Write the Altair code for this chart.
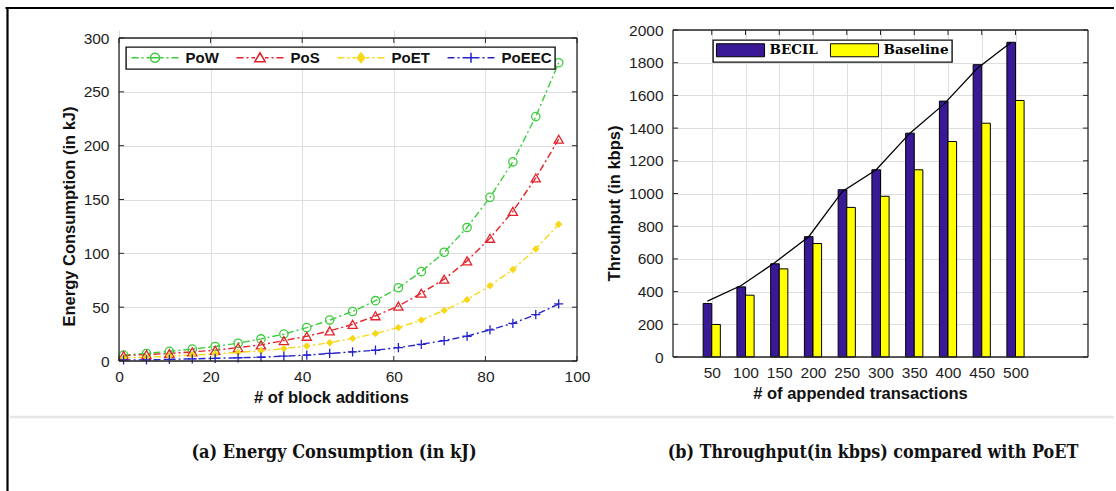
import altair as alt
import pandas as pd

# ---------------- data: (a) energy consumption ----------------
block_additions = [1, 6, 11, 16, 21, 26, 31, 36, 41, 46, 51, 56, 61, 66, 71, 76, 81, 86, 91, 96]
pow_kj = [5.5, 7, 9, 11, 13.5, 16.5, 20.5, 25, 31, 38, 46, 56, 68, 83, 101, 124, 152, 185, 227, 277]
pos_kj = [5, 6, 7, 8.5, 10, 12.5, 15, 19, 23, 28, 34, 42, 51, 63, 76, 93, 114, 139, 170, 206]
poet_kj = [3, 3.5, 4.5, 5.5, 6.5, 8, 9.5, 11.5, 14, 17, 21, 25.5, 31, 38, 47, 57, 70, 85, 104, 127]
poeec_kj = [1, 1, 1.5, 2, 2.5, 3, 3.5, 4.5, 5.5, 7, 8.5, 10, 12.5, 15.5, 19, 23, 29, 35, 43, 53]
series_a = ["PoW", "PoS", "PoET", "PoEEC"]
x_ticks_a = [0, 20, 40, 60, 80, 100]
y_ticks_a = [0, 50, 100, 150, 200, 250, 300]

# ---------------- data: (b) throughput ----------------
transactions = [50, 100, 150, 200, 250, 300, 350, 400, 450, 500]
becil_kbps = [327, 429, 570, 736, 1023, 1145, 1369, 1565, 1788, 1925]
baseline_kbps = [199, 378, 539, 694, 915, 983, 1145, 1318, 1430, 1569]
trend_kbps = [342, 437, 578, 736, 1013, 1145, 1369, 1545, 1766, 1925]
series_b = ["BECIL", "Baseline"]
y_ticks_b = [0, 200, 400, 600, 800, 1000, 1200, 1400, 1600, 1800, 2000]

caption_a = "(a) Energy Consumption (in kJ)"
caption_b = "(b) Throughput(in kbps) compared with PoET"

# ---------------- styles ----------------
SANS = "Liberation Sans"
CAP_FONT = "DejaVu Serif Condensed"
FRAME = "#262626"
GRID = "#dedede"
colors_a = ["#3dcc3d", "#e3232b", "#f7d716", "#2424c8"]
fills_a = ["transparent", "transparent", "#f7d716", "transparent"]
marker_shapes = ["circle", "triangle-up", "diamond", "M-1,0H1M0,-1V1"]
marker_sizes = [70, 85, 55, 85]
# legend glyphs (unit = 5 px): dash-dot line with the marker in the middle
dash = "M-4.7,0H-3.3M-2.7,0H-2.3M-1.7,0H-1M1,0H1.7M2.3,0H2.7M3.3,0H4.7"
legend_paths = [
    dash + "M0.9,0A0.9,0.9,0,1,1,-0.9,0A0.9,0.9,0,1,1,0.9,0ZM-0.9,0H0.9",
    dash + "M0,-1L1.05,0.8L-1.05,0.8Z",
    dash + "M0,-0.95L0.75,0L0,0.95L-0.75,0Z",
    dash + "M-1,0H1M0,-1V1",
]
colors_b = ["#3a1996", "#ffff00"]

W_A, H_A, TOP_A = 458, 331, 8
W_B, H_B = 415, 327
OFF_B = 673 - 119  # right panel origin relative to left panel origin

# ---------------- frames ----------------
df_a = pd.DataFrame({
    "x": block_additions * 4,
    "v": pow_kj + pos_kj + poet_kj + poeec_kj,
    "series": sum([[s] * len(block_additions) for s in series_a], []),
})
df_b = pd.DataFrame({
    "tx": transactions * 2,
    "v": becil_kbps + baseline_kbps,
    "series": ["BECIL"] * len(transactions) + ["Baseline"] * len(transactions),
})
df_trend = pd.DataFrame({"tx": transactions, "v": trend_kbps})
one = pd.DataFrame({"k": [0]})


def hrule(y, x1, x2, color=FRAME, w=1.3):
    return alt.Chart(one).mark_rule(color=color, strokeWidth=w).encode(
        x=alt.value(x1), x2=alt.value(x2), y=alt.value(y))


def vrule(x, y1, y2, color=FRAME, w=1.3):
    return alt.Chart(one).mark_rule(color=color, strokeWidth=w).encode(
        x=alt.value(x), y=alt.value(y1), y2=alt.value(y2))


def text(t, x, y, font, size, weight="bold"):
    return alt.Chart(pd.DataFrame({"t": [t]})).mark_text(
        font=font, fontSize=size, fontWeight=weight, color="#111",
        align="center", baseline="middle").encode(
        text="t:N", x=alt.value(x), y=alt.value(y))


def axis(values, title, orient, titlePos):
    common = dict(values=values, tickCount=len(values) + 1,
                  grid=True, gridColor=GRID, gridWidth=1,
                  domain=False, ticks=False, tickSize=0, format="d",
                  labelFlush=False, labelOverlap=False,
                  labelFont=SANS, labelFontSize=15.5, labelColor="#1e1e1e",
                  title=title, titleFont=SANS, titleFontSize=16.5,
                  titleFontWeight="bold", titleColor="#111")
    if orient == "x":
        return alt.Axis(labelPadding=8, titlePadding=5, titleX=titlePos, **common)
    return alt.Axis(labelPadding=10, titlePadding=6, titleY=titlePos, **common)


# ================= chart (a) =================
xs_a = alt.Scale(domain=[0, 100], nice=False, zero=False)
ys_a = alt.Scale(domain=[0, 300], range=[H_A, TOP_A], nice=False)

layers_a = []
for i, s in enumerate(series_a):
    base = alt.Chart(df_a).transform_filter(alt.datum.series == s)
    if i == 0:
        X = alt.X("x:Q", scale=xs_a, axis=axis(x_ticks_a, "# of block additions", "x", 212))
        Y = alt.Y("v:Q", scale=ys_a, axis=axis(y_ticks_a, "Energy Consumption (in kJ)", "y", 186))
    else:
        X = alt.X("x:Q", scale=xs_a)
        Y = alt.Y("v:Q", scale=ys_a)
    layers_a.append(base.mark_line(color=colors_a[i], strokeWidth=1.4,
                                   strokeDash=[7, 3, 2, 3]).encode(x=X, y=Y))
for i, s in enumerate(series_a):
    base = alt.Chart(df_a).transform_filter(alt.datum.series == s)
    layers_a.append(base.mark_point(shape=marker_shapes[i], size=marker_sizes[i],
                                    color=colors_a[i], filled=(i == 2),
                                    strokeWidth=1.3, opacity=1).encode(
        x=alt.X("x:Q", scale=xs_a), y=alt.Y("v:Q", scale=ys_a)))

# inside ticks
xt_a = pd.DataFrame({"t": x_ticks_a})
yt_a = pd.DataFrame({"t": y_ticks_a})
for y1, y2 in [(H_A, H_A - 5), (TOP_A, TOP_A + 5)]:
    layers_a.append(alt.Chart(xt_a).mark_rule(color=FRAME, strokeWidth=1).encode(
        x=alt.X("t:Q", scale=xs_a), y=alt.value(y1), y2=alt.value(y2)))
for x1, x2 in [(0, 5), (W_A, W_A - 5)]:
    layers_a.append(alt.Chart(yt_a).mark_rule(color=FRAME, strokeWidth=1).encode(
        y=alt.Y("t:Q", scale=ys_a), x=alt.value(x1), x2=alt.value(x2)))

# plot frame
layers_a += [hrule(TOP_A, 0, W_A), hrule(H_A, 0, W_A), vrule(0, TOP_A, H_A), vrule(W_A, TOP_A, H_A)]

# legend (a)
leg_a = alt.Legend(title=None, orient="none", legendX=7, legendY=17,
                   direction="horizontal", columns=4, symbolSize=100,
                   symbolOffset=18.5, symbolStrokeWidth=1.5, symbolOpacity=1,
                   labelFont=SANS, labelFontSize=15, labelFontWeight="bold",
                   labelColor="#111", labelOffset=23, columnPadding=14,
                   padding=3, strokeColor="#111", fillColor="white")
layers_a.append(alt.Chart(df_a).transform_filter("false").mark_point(
    size=100, strokeWidth=1.5, opacity=1).encode(
    stroke=alt.Stroke("series:N", scale=alt.Scale(domain=series_a, range=colors_a), legend=leg_a),
    fill=alt.Fill("series:N", scale=alt.Scale(domain=series_a, range=fills_a), legend=leg_a),
    shape=alt.Shape("series:N", scale=alt.Scale(domain=series_a, range=legend_paths), legend=leg_a),
))

# page decorations: border, separator, captions
layers_a += [
    hrule(-22, -113.5, 995, "black", 2),
    vrule(-111.5, -23, 462, "black", 2.2),
    hrule(387, -109, 995, "#e6e6e6", 2.5),
    text(caption_a, 215, 423, CAP_FONT, 18),
    text(caption_b, 754, 423, CAP_FONT, 17.8),
]

chart_a = alt.layer(*layers_a).properties(width=W_A, height=H_A)

# ================= chart (b) =================
xs_b = alt.Scale(domain=[0, 600], nice=False, zero=False)
ys_b = alt.Scale(domain=[0, 2000], nice=False)
leg_b = alt.Legend(title=None, orient="none", legendX=OFF_B + 40, legendY=10,
                   direction="horizontal", columns=2,
                   symbolType="M-3.7,-1H3.7V1H-3.7Z", symbolSize=169, symbolOffset=17.5,
                   symbolStrokeColor="black", symbolStrokeWidth=1, symbolOpacity=1,
                   labelFont="DejaVu Serif", labelFontSize=13.5, labelFontWeight="bold",
                   labelColor="black", labelOffset=22, columnPadding=10,
                   padding=3, strokeColor="#111", fillColor="white")
color_b = alt.Color("series:N", scale=alt.Scale(domain=series_b, range=colors_b), legend=leg_b)

layers_b = [
    alt.Chart(df_b).transform_filter(alt.datum.series == "BECIL").mark_bar(
        orient="vertical", width=8.6, xOffset=-4.3, stroke="black", strokeWidth=1, opacity=1).encode(
        x=alt.X("tx:Q", scale=xs_b, axis=axis(transactions, "# of appended transactions", "x", 187)),
        y=alt.Y("v:Q", scale=ys_b, axis=axis(y_ticks_b, "Throuhput (in kbps)", "y", 173)),
        color=color_b),
    alt.Chart(df_b).transform_filter(alt.datum.series == "Baseline").mark_bar(
        orient="vertical", width=8.6, xOffset=4.3, stroke="black", strokeWidth=1, opacity=1).encode(
        x=alt.X("tx:Q", scale=xs_b), y=alt.Y("v:Q", scale=ys_b), color=color_b),
    alt.Chart(df_trend).mark_line(color="black", strokeWidth=1.3, xOffset=-4.3).encode(
        x=alt.X("tx:Q", scale=xs_b), y=alt.Y("v:Q", scale=ys_b)),
]
xt_b = pd.DataFrame({"t": transactions})
yt_b = pd.DataFrame({"t": y_ticks_b})
layers_b.append(alt.Chart(xt_b).mark_rule(color=FRAME, strokeWidth=1).encode(
    x=alt.X("t:Q", scale=xs_b), y=alt.value(0), y2=alt.value(5)))
for x1, x2 in [(0, 5), (W_B, W_B - 5)]:
    layers_b.append(alt.Chart(yt_b).mark_rule(color=FRAME, strokeWidth=1).encode(
        y=alt.Y("t:Q", scale=ys_b), x=alt.value(x1), x2=alt.value(x2)))
layers_b += [hrule(0, 0, W_B), hrule(H_B, 0, W_B), vrule(0, 0, H_B), vrule(W_B, 0, H_B)]

chart_b = alt.layer(*layers_b).properties(width=W_B, height=H_B)

chart = alt.hconcat(chart_a, chart_b, spacing=96, bounds="flush").properties(
    padding={"left": 4, "top": 5, "right": 0, "bottom": 0},
    background="white",
).configure_view(stroke=None).configure_legend(strokeWidth=1.4)

chart.save("out.html", embed_options={"renderer": "svg", "actions": False})
